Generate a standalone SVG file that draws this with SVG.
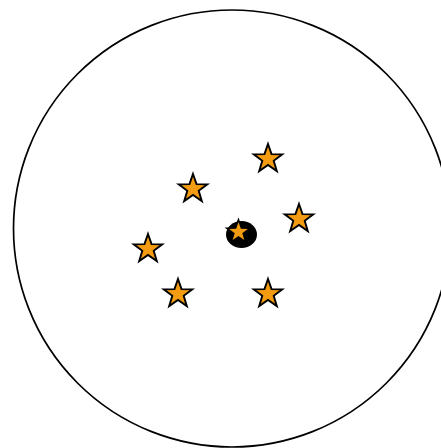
<svg xmlns="http://www.w3.org/2000/svg" xmlns:xlink="http://www.w3.org/1999/xlink" width="441" height="448" viewBox="0 0 441 448">
<style>
.star{fill:#F39C12;stroke:#000;stroke-width:1.9;stroke-linejoin:miter}
.ring{fill:none;stroke:#000;stroke-width:1.7}
</style>
<defs>
<path id="star" d="M0,-15 L3.53,-4.85 L14.27,-4.64 L5.71,1.85 L8.82,12.14 L0,6 L-8.82,12.14 L-5.71,1.85 L-14.27,-4.64 L-3.53,-4.85 Z"/>
</defs>
<rect width="441" height="448" fill="#fff"/>
<g id="boundary"><circle class="ring" cx="232" cy="228.5" r="218.5"/></g>
<g id="center">
<ellipse cx="241.5" cy="234.5" rx="15.5" ry="13.5" fill="#000"/>
<use xlink:href="#star" class="star" transform="translate(238.5,232) scale(0.82)"/>
</g>
<g id="s1"><use xlink:href="#star" class="star" x="268" y="159"/></g>
<g id="s2"><use xlink:href="#star" class="star" x="193" y="189"/></g>
<g id="s3"><use xlink:href="#star" class="star" x="299" y="219"/></g>
<g id="s4"><use xlink:href="#star" class="star" x="148" y="249"/></g>
<g id="s5"><use xlink:href="#star" class="star" x="178" y="294"/></g>
<g id="s6"><use xlink:href="#star" class="star" x="268" y="294"/></g>
</svg>
